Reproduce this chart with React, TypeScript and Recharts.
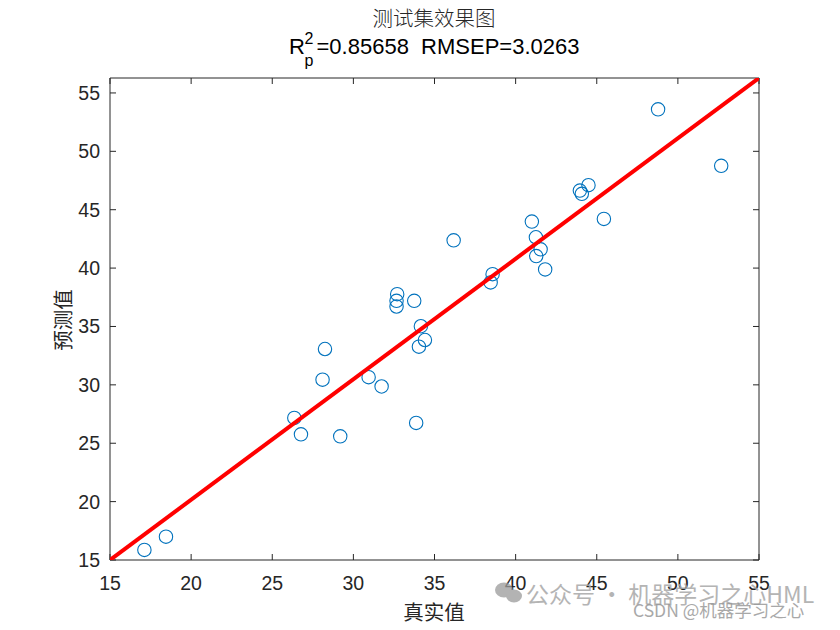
import React from 'react';
import { ScatterChart, Scatter, XAxis, YAxis } from 'recharts';

// measured values (true vs predicted) of the test set
const TRUE_VALUES = [
  17.12, 18.45, 26.36, 26.77, 28.1, 28.25, 29.19, 30.94, 31.74, 32.7, 32.66,
  32.66, 33.75, 33.87, 34.04, 34.16, 34.41, 36.18, 38.46, 38.58, 41.0, 41.25,
  41.54, 41.27, 41.82, 43.96, 44.08, 44.49, 45.44, 48.78, 52.67,
];
const PRED_VALUES = [
  15.86, 17.0, 27.17, 25.76, 30.44, 33.07, 25.59, 30.66, 29.86, 37.77, 37.2,
  36.71, 37.2, 26.74, 33.27, 35.02, 33.84, 42.38, 38.77, 39.48, 43.98, 42.64,
  41.61, 41.03, 39.89, 46.64, 46.36, 47.1, 44.21, 53.6, 48.76,
];
const FIT_X = [15, 55];
const FIT_Y = [15, 56.28];
const X_TICKS = [15, 20, 25, 30, 35, 40, 45, 50, 55];
const Y_TICKS = [15, 20, 25, 30, 35, 40, 45, 50, 55];

const points = TRUE_VALUES.map((x, i) => ({ x, y: PRED_VALUES[i] }));
const fitLine = FIT_X.map((x, i) => ({ x, y: FIT_Y[i] }));

const AXIS = '#262626';
const TICK_FONT = { fill: AXIS, fontSize: 19.5, fontFamily: '"Liberation Sans", Arial, sans-serif' };
const CJK = '"Noto Sans CJK SC", sans-serif';

const Ring = (props: any) => {
  const { cx, cy } = props;
  if (cx == null || cy == null) return <g />;
  return <circle cx={cx} cy={cy} r={6.7} fill="none" stroke="#0072BD" strokeWidth={1.1} />;
};

export default function App() {
  return (
    <div style={{ position: 'absolute', left: 0, top: 0, width: 840, height: 630, background: '#fff' }}>
      <ScatterChart width={840} height={630} margin={{ top: 77, right: 80, bottom: 30, left: 50 }}>
        <XAxis
          xAxisId="b"
          type="number"
          dataKey="x"
          domain={[15, 55]}
          ticks={X_TICKS}
          allowDataOverflow
          height={40}
          stroke={AXIS}
          tickSize={-6}
          tickMargin={22}
          tick={TICK_FONT}
        />
        <XAxis
          xAxisId="t"
          orientation="top"
          type="number"
          dataKey="x"
          domain={[15, 55]}
          ticks={X_TICKS}
          allowDataOverflow
          height={1}
          stroke={AXIS}
          tickSize={-6}
          tickFormatter={() => ''}
        />
        <YAxis
          yAxisId="l"
          type="number"
          dataKey="y"
          domain={[15, 56.28]}
          ticks={Y_TICKS}
          allowDataOverflow
          width={60}
          stroke={AXIS}
          tickSize={-6}
          tickMargin={16}
          tick={TICK_FONT}
        />
        <YAxis
          yAxisId="r"
          orientation="right"
          type="number"
          dataKey="y"
          domain={[15, 56.28]}
          ticks={Y_TICKS}
          allowDataOverflow
          width={1}
          stroke={AXIS}
          tickSize={-6}
          tickFormatter={() => ''}
        />
        <Scatter
          xAxisId="b"
          yAxisId="l"
          data={points}
          shape={Ring}
          isAnimationActive={false}
        />
        <Scatter
          xAxisId="t"
          yAxisId="r"
          data={fitLine}
          line={{ stroke: '#FF0000', strokeWidth: 4 }}
          shape={() => <g />}
          isAnimationActive={false}
        />
      </ScatterChart>
      <svg width={840} height={630} style={{ position: 'absolute', left: 0, top: 0, pointerEvents: 'none' }}>
        <text x={434} y={26} textAnchor="middle" fontSize={20.5} fontFamily={CJK} fontWeight={300} fill={AXIS}>
          测试集效果图
        </text>
        <g fontFamily='"Liberation Sans", Arial, sans-serif' fill="#000">
          <text x={289} y={54} fontSize={22}>R</text>
          <text x={304.5} y={44} fontSize={16}>2</text>
          <text x={304.5} y={66} fontSize={16}>p</text>
          <text x={316.5} y={54} fontSize={22} style={{ whiteSpace: 'pre' }}>
            {'=0.85658  RMSEP=3.0263'}
          </text>
        </g>
        <text x={434} y={620} textAnchor="middle" fontSize={20.5} fontFamily={CJK} fill={AXIS}>
          真实值
        </text>
        <text
          x={0}
          y={0}
          transform="translate(71 320) rotate(-90)"
          textAnchor="middle"
          fontSize={20.5}
          fontFamily={CJK}
          fill={AXIS}
        >
          预测值
        </text>
        {/* watermark */}
        <g fill="#9a9a9a" opacity={0.75}>
          <ellipse cx={504} cy={590} rx={9} ry={7.5} />
          <ellipse cx={514} cy={596} rx={8} ry={6.5} />
        </g>
        <text x={526} y={603} fontSize={23} fontFamily={CJK} fill="#a8a8a8" opacity={0.85}>
          公众号 · 机器学习之心HML
        </text>
        <text x={633} y={617} fontSize={17.5} fontFamily={CJK} fill="#9a9a9a" opacity={0.85}>
          CSDN @机器学习之心
        </text>
      </svg>
    </div>
  );
}
